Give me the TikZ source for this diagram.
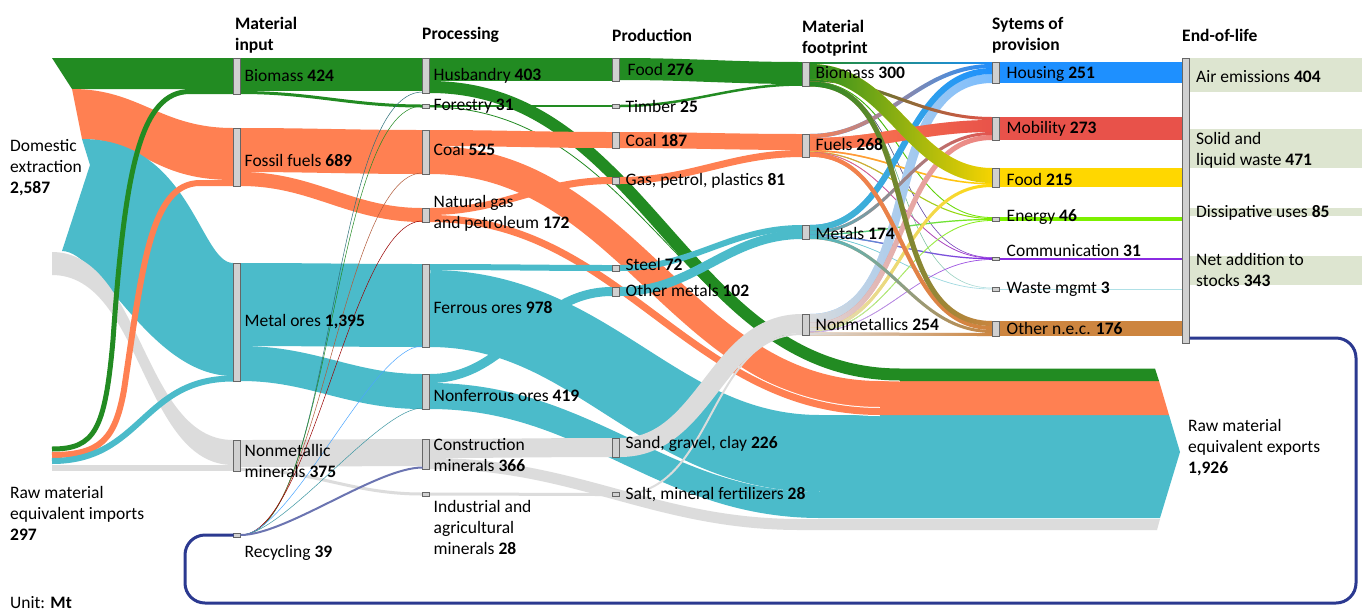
\documentclass[tikz,border=0pt]{standalone}
\usepackage{fontspec}
\setmainfont{Carlito}
\usetikzlibrary{positioning,fadings}
\definecolor{cbio}{RGB}{34,139,34}
\definecolor{cfos}{RGB}{255,128,82}
\definecolor{cmet}{RGB}{75,187,202}
\definecolor{cnon}{RGB}{220,220,220}
\definecolor{chou}{RGB}{30,144,255}
\definecolor{cmob}{RGB}{232,82,74}
\definecolor{cfod}{RGB}{255,215,0}
\definecolor{cene}{RGB}{124,240,0}
\definecolor{ccom}{RGB}{138,43,226}
\definecolor{cwas}{RGB}{176,224,230}
\definecolor{coth}{RGB}{205,133,63}
\definecolor{ceol}{RGB}{221,229,208}
\definecolor{crec}{RGB}{43,57,144}
\definecolor{cbar}{RGB}{208,208,208}
% one flow band: style, start, end
\newcommand{\band}[3]{\draw[#1] (#2) to[out=0,in=180] (#3);}
% band that changes colour: from, to, width, start, end
\newcommand{\gband}[5]{%
  \draw[#2,line width=#3pt] (#4) to[out=0,in=180] (#5);
  \draw[#1,line width=#3pt,path fading=east] (#4) to[out=0,in=180] (#5);}

\begin{document}
\begin{tikzpicture}[x=1pt,y=-1pt,% pixel grid, y going down
    every node/.style={font=\fontsize{17.5}{21}\selectfont, inner sep=0pt},
    bar/.style={draw=black!60, fill=cbar, line width=0.8pt, minimum width=7pt, outer sep=0pt},
    lbl/.style={anchor=west, align=left},
    hdr/.style={anchor=west, align=left, font=\fontsize{17.5}{21}\selectfont\bfseries},
    rl/.style={line width=0.5pt}
  ]
  \path[use as bounding box, fill=white] (0,0) rectangle (1362,611);

  % end-of-life boxes
  \fill[ceol] (1190,58) rectangle (1362,92);
  \fill[ceol] (1190,129) rectangle (1362,168);
  \fill[ceol] (1190,208) rectangle (1362,216);
  \fill[ceol] (1190,256) rectangle (1362,285);

  % domestic extraction
  \fill[cbio] (52,58) -- (233,58) -- (233,89) -- (72,89) -- cycle;
  \fill[cfos] (72,89) .. controls (140,89) and (160,128) .. (233,128) -- (233,180)
    .. controls (150,180) and (140,139) .. (82,139) -- cycle;
  \fill[cmet] (82,139) .. controls (190,139) and (200,263) .. (233,263) -- (233,376)
    .. controls (150,376) and (100,251) .. (62,251) -- (90,165) -- cycle;
  \fill[cnon] (52,252) .. controls (142,252) and (142,440) .. (233,440) -- (233,465)
    .. controls (142,465) and (142,275) .. (52,275) -- cycle;
  % imports
  \draw[cbio, line width=5pt] (52,449) .. controls (95,449) and (105,430) .. (113,340)
    .. controls (125,170) and (140,91.5) .. (190,91.5) -- (233,91.5);
  \draw[cfos, line width=6pt] (52,455) .. controls (100,455) and (115,440) .. (124,390)
    .. controls (142,270) and (150,183) .. (200,183) -- (233,183);
  \draw[cmet, line width=6pt] (52,461) .. controls (142,461) and (142,378.5) .. (233,378.5);
  \fill[cnon] (52,465) rectangle (233,471);

  % material input -> processing
  \band{cbio,line width=33pt}{241,74.5}{422,74.5}
  \band{cbio,line width=3pt}{241,92.5}{422,106}
  \band{cfos,line width=44pt}{241,150}{422,152}
  \band{cfos,line width=14pt}{241,179}{422,215}
  \band{cmet,line width=83pt}{241,304.5}{422,305.5}
  \band{cmet,line width=35pt}{241,363.5}{422,391.5}
  \band{cnon,line width=27pt}{241,453.5}{422,452.5}
  \band{cnon,line width=3pt}{241,469.5}{422,494}

  % exports
  \band{cmet,line width=77pt}{430,308.5}{820,453.5}
  \band{cmet,line width=26pt}{430,396}{820,505}
  \fill[cmet] (820,415) -- (1169,415) -- (1180,452) -- (1160,518) -- (820,518) -- cycle;
  \band{cfos,line width=28pt}{430,160}{880,395}
  \band{white,line width=9pt}{430,218.5}{880,411.5}
  \band{cfos,line width=7pt}{430,218.5}{880,411.5}
  \fill[cfos] (880,381) -- (1159,381) -- (1169,415) -- (880,415) -- cycle;
  \band{white,line width=14pt}{430,87}{900,374.5}
  \band{cbio,line width=12pt}{430,87}{900,374.5}
  \band{cbio,line width=0.8pt}{430,107}{900,376}
  \fill[cbio] (900,368.5) -- (1155,368.5) -- (1159,381) -- (900,381) -- cycle;
  \band{cnon,line width=11pt}{430,463.5}{800,524.5}
  \fill[cnon] (800,519) -- (1160,519) -- (1157,530) -- (800,530) -- cycle;

  % processing -> production
  \band{cbio,line width=23pt}{430,69.5}{612,69.5}
  \band{cbio,line width=2.5pt}{430,106}{612,106}
  \band{cfos,line width=16pt}{430,138}{612,140}
  \band{cfos,line width=7pt}{430,211.5}{612,180.5}
  \band{cmet,line width=6pt}{430,267}{612,268}
  \band{cmet,line width=9pt}{430,378.5}{612,291.5}
  \band{cnon,line width=19pt}{430,448.5}{612,447.5}
  \band{cnon,line width=3pt}{430,494}{612,494.5}

  % production -> material footprint
  \band{cbio,line width=22pt}{620,69}{802,73}
  \band{cbio,line width=2.5pt}{620,106}{802,84.5}
  \band{cfos,line width=16pt}{620,140}{802,142}
  \band{cfos,line width=7pt}{620,180.5}{802,153.5}
  \band{cnon,line width=2pt}{620,494.5}{802,334}
  \band{cnon,line width=19pt}{620,447.5}{802,323.5}
  \band{cmet,line width=6pt}{620,268}{802,228}
  \band{cmet,line width=9pt}{620,291.5}{802,234.5}

  % material footprint -> systems of provision
  \gband{cbio}{cene}{0.8}{810,81.5}{992,217.5}
  \gband{cbio}{ccom}{0.5}{810,82}{992,257.5}
  \gband{cbio}{cwas}{0.5}{810,82.5}{992,288}
  \gband{cfos}{cfod}{1.5}{810,150.7}{992,183.7}
  \gband{cfos}{cene}{1}{810,152}{992,218.5}
  \gband{cfos}{ccom}{0.7}{810,152.5}{992,258}
  \gband{cmet}{cene}{1.2}{810,234.5}{992,219.5}
  \gband{cmet}{ccom}{1.2}{810,235.5}{992,258.7}
  \gband{cmet}{cwas}{0.6}{810,236.3}{992,289}
  \gband{cnon}{cene}{0.8}{810,331.5}{992,220.5}
  \gband{cnon}{ccom}{0.6}{810,332}{992,259.5}
  \gband{cnon}{chou!60}{9}{810,318.5}{992,78.5}
  \gband{cnon}{cmob!75}{5}{810,325.5}{992,137.5}
  \gband{cnon}{cfod}{3}{810,329.5}{992,185.5}
  \gband{cnon}{coth}{3}{810,334}{992,334.5}
  \gband{cmet}{chou}{6}{810,228}{992,71}
  \gband{cmet}{cmob}{3}{810,232.5}{992,133.5}
  \gband{cmet}{coth}{3}{810,237.5}{992,331.5}
  \gband{cfos}{chou}{4}{810,136}{992,66}
  \gband{cfos}{cmob}{12}{810,144}{992,126}
  \gband{cfos}{coth}{4}{810,154.7}{992,328}
  \gband{cbio}{chou}{2.5}{810,63}{992,63}
  \gband{cbio}{cmob}{3}{810,80}{992,118.5}
  \gband{cbio}{cfod}{15}{810,71.5}{992,175.5}
  \gband{cbio}{coth}{5}{810,84}{992,323.5}

  % systems of provision -> end-of-life
  \fill[chou] (1000,62) rectangle (1182,83);
  \fill[cmob] (1000,117) rectangle (1182,140);
  \fill[cfod] (1000,168) rectangle (1182,187);
  \fill[cene] (1000,217) rectangle (1182,221);
  \fill[ccom] (1000,257.5) rectangle (1182,259.5);
  \fill[cwas] (1000,288.5) rectangle (1182,289.5);
  \fill[coth] (1000,321) rectangle (1182,336);

  % bars
  \node[bar, minimum height=36pt] (bio) at (237,76) {};
  \node[bar, minimum height=58pt] (fos) at (237,157) {};
  \node[bar, minimum height=118pt] (mor) at (237,322) {};
  \node[bar, minimum height=31pt] (nmm) at (237,455.5) {};
  \node[bar, minimum height=4pt] (rec) at (237,535) {};
  \node[bar, minimum height=35pt] (hus) at (426,75.5) {};
  \node[bar, minimum height=4pt] (frs) at (426,106) {};
  \node[bar, minimum height=44pt] (coa) at (426,152) {};
  \node[bar, minimum height=14pt] (nga) at (426,215) {};
  \node[bar, minimum height=83pt] (fer) at (426,305.5) {};
  \node[bar, minimum height=35pt] (nfe) at (426,391.5) {};
  \node[bar, minimum height=30pt] (con) at (426,454) {};
  \node[bar, minimum height=4pt] (ind) at (426,494) {};
  \node[bar, minimum height=23pt] (fod) at (616,69.5) {};
  \node[bar, minimum height=4pt] (tim) at (616,106) {};
  \node[bar, minimum height=16pt] (pco) at (616,140) {};
  \node[bar, minimum height=7pt] (gpp) at (616,180.5) {};
  \node[bar, minimum height=6pt] (stl) at (616,268) {};
  \node[bar, minimum height=9pt] (omt) at (616,291.5) {};
  \node[bar, minimum height=19pt] (sgc) at (616,447.5) {};
  \node[bar, minimum height=4pt] (slt) at (616,494.5) {};
  \node[bar, minimum height=24pt] (fbi) at (806,74) {};
  \node[bar, minimum height=23pt] (ffu) at (806,145.5) {};
  \node[bar, minimum height=14pt] (fme) at (806,232) {};
  \node[bar, minimum height=21pt] (fnm) at (806,324.5) {};
  \node[bar, minimum height=21pt] (hou) at (996,72.5) {};
  \node[bar, minimum height=23pt] (mob) at (996,128.5) {};
  \node[bar, minimum height=19pt] (sfo) at (996,177.5) {};
  \node[bar, minimum height=4pt] (ene) at (996,219) {};
  \node[bar, minimum height=3pt] (com) at (996,258.5) {};
  \node[bar, minimum height=4pt] (was) at (996,289) {};
  \node[bar, minimum height=15pt] (oth) at (996,328.5) {};
  \node[bar, minimum height=285pt] (eol) at (1186,200.5) {};

  % recycling
  \draw[crec, line width=3pt, rounded corners=20pt] ([yshift=5pt]eol.south east) -- (1356,338)
    -- (1356,603) -- (185,603) -- (185,535) -- (rec.west);
  \draw[rl, cmet!60!black] (rec.east) to[out=0,in=180,looseness=0.5] ([yshift=1pt]hus.south west);
  \draw[rl, cbio] (rec.east) to[out=0,in=180,looseness=0.5] (frs.west);
  \draw[rl, cfos!70!black] (rec.east) to[out=0,in=180,looseness=0.5] ([yshift=1pt]coa.south west);
  \draw[rl, red!60!black] (rec.east) to[out=0,in=180,looseness=0.5] ([yshift=1pt]nga.south west);
  \draw[rl, chou!80] (rec.east) to[out=0,in=180,looseness=0.5] ([yshift=1pt]fer.south west);
  \draw[rl, cmet!80!black] (rec.east) to[out=0,in=180,looseness=0.5] ([yshift=1pt]nfe.south west);
  \draw[crec!70, line width=2pt] (rec.east) to[out=0,in=180,looseness=0.6] ([yshift=1.5pt]con.south west);

  % labels
  \node[hdr] (h1) at (235,35) {Material\\input};
  \node[hdr] (h2) at (422,35) {Processing};
  \node[hdr] (h3) at (612,35) {Production};
  \node[hdr] (h4) at (802,38) {Material\\footprint};
  \node[hdr] (h5) at (992,35) {Sytems of\\provision};
  \node[hdr] (h6) at (1182,35) {End-of-life};

  \node[lbl] (ldom) at (10,167.5) {Domestic\\extraction\\\textbf{2,587}};
  \node[lbl] (limp) at (10,513.5) {Raw material\\equivalent imports\\\textbf{297}};
  \node[lbl] (lexp) at (1188,447.5) {Raw material\\equivalent exports\\\textbf{1,926}};
  \node[lbl] (unit) at (10,603) {Unit: \textbf{Mt}};

  \node[lbl, right=4pt of bio] (lbio) {Biomass \textbf{424}};
  \node[lbl, right=4pt of fos, yshift=-3pt] (lfos) {Fossil fuels \textbf{689}};
  \node[lbl, right=4pt of mor] (lmor) {Metal ores \textbf{1,395}};
  \node[lbl, right=4pt of nmm, yshift=-5.5pt] (lnmm) {Nonmetallic\\minerals \textbf{375}};
  \node[lbl, right=4pt of rec, yshift=-18pt] (lrec) {Recycling \textbf{39}};
  \node[lbl, right=4pt of hus] (lhus) {Husbandry \textbf{403}};
  \node[lbl, right=4pt of frs] (lfrs) {Forestry \textbf{31}};
  \node[lbl, right=4pt of coa, yshift=3pt] (lcoa) {Coal \textbf{525}};
  \node[lbl, right=4pt of nga, yshift=2pt] (lnga) {Natural gas\\and petroleum \textbf{172}};
  \node[lbl, right=4pt of fer, yshift=-2.5pt] (lfer) {Ferrous ores \textbf{978}};
  \node[lbl, right=4pt of nfe, yshift=-4.5pt] (lnfe) {Nonferrous ores \textbf{419}};
  \node[lbl, right=4pt of con, yshift=-1pt] (lcon) {Construction\\minerals \textbf{366}};
  \node[lbl, right=4pt of ind, yshift=-33pt] (lind) {Industrial and\\agricultural\\minerals \textbf{28}};
  \node[lbl, right=8pt of fod] (lfod) {Food \textbf{276}};
  \node[lbl, right=6pt of tim] (ltim) {Timber \textbf{25}};
  \node[lbl, right=6pt of pco] (lpco) {Coal \textbf{187}};
  \node[lbl, right=6pt of gpp] (lgpp) {Gas, petrol, plastics \textbf{81}};
  \node[lbl, right=6pt of stl, yshift=4pt] (lstl) {Steel \textbf{72}};
  \node[lbl, right=6pt of omt, yshift=1.5pt] (lomt) {Other metals \textbf{102}};
  \node[lbl, right=6pt of sgc, yshift=3.5pt] (lsgc) {Sand, gravel, clay \textbf{226}};
  \node[lbl, right=6pt of slt] (lslt) {Salt, mineral fertilizers \textbf{28}};
  \node[lbl, right=6pt of fbi, yshift=1pt] (lfbi) {Biomass \textbf{300}};
  \node[lbl, right=6pt of ffu, yshift=1.5pt] (lffu) {Fuels \textbf{268}};
  \node[lbl, right=6pt of fme, yshift=-1pt] (lfme) {Metals \textbf{174}};
  \node[lbl, right=6pt of fnm] (lfnm) {Nonmetallics \textbf{254}};
  \node[lbl, right=7pt of hou, yshift=-1.5pt] (lhou) {Housing \textbf{251}};
  \node[lbl, right=7pt of mob] (lmob) {Mobility \textbf{273}};
  \node[lbl, right=7pt of sfo, yshift=-1.5pt] (lsfo) {Food \textbf{215}};
  \node[lbl, right=7pt of ene, yshift=1.5pt] (lene) {Energy \textbf{46}};
  \node[lbl, right=7pt of com, yshift=7.5pt] (lcom) {Communication \textbf{31}};
  \node[lbl, right=7pt of was] (lwas) {Waste mgmt \textbf{3}};
  \node[lbl, right=7pt of oth] (loth) {Other n.e.c. \textbf{176}};

  \node[lbl] (lair) at (1196,77) {Air emissions \textbf{404}};
  \node[lbl] (lsol) at (1196,150.5) {Solid and\\liquid waste \textbf{471}};
  \node[lbl] (ldis) at (1196,212.5) {Dissipative uses \textbf{85}};
  \node[lbl] (lnet) at (1196,270) {Net addition to\\stocks \textbf{343}};
\end{tikzpicture}
\end{document}
